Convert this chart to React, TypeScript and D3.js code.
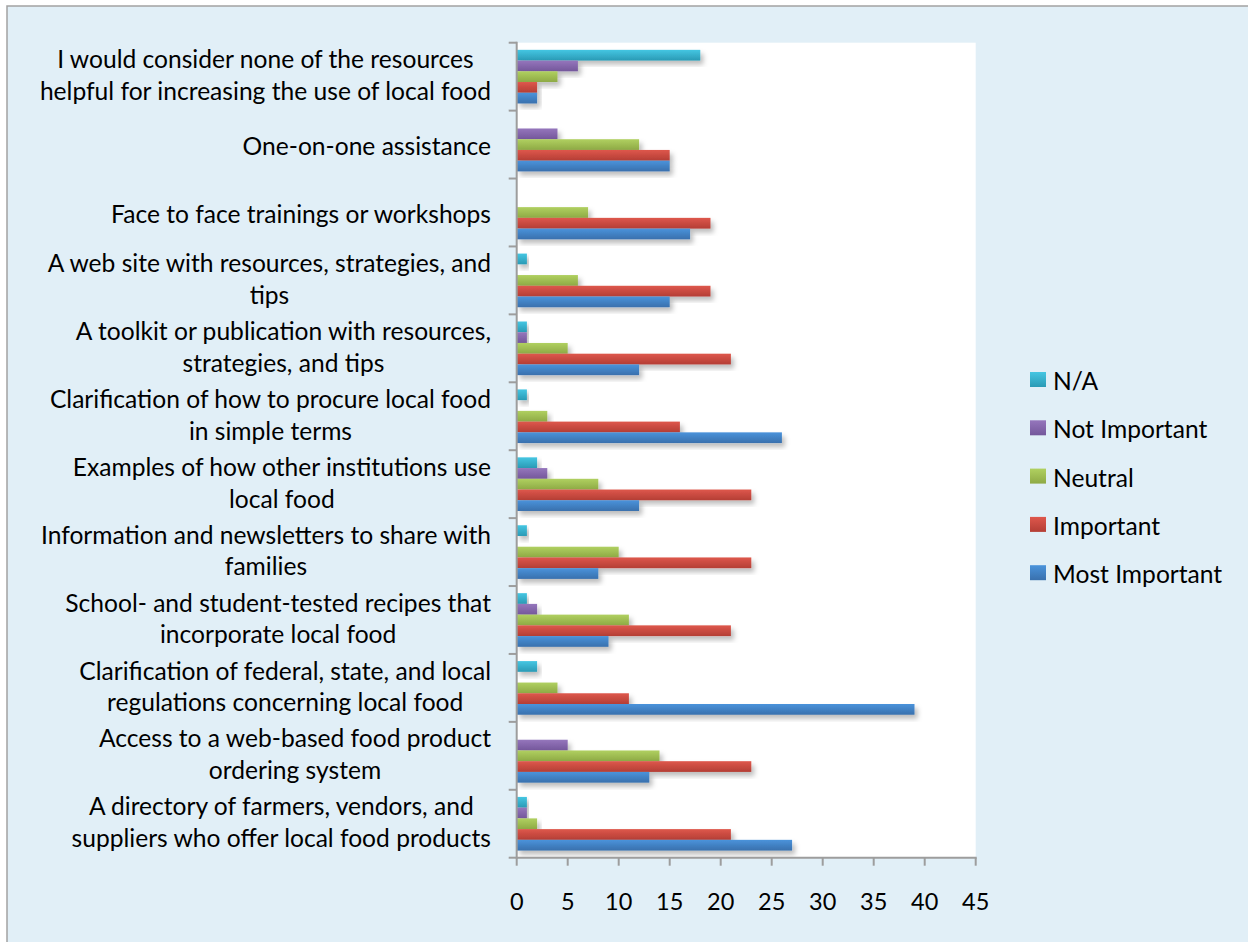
import React, { useEffect, useRef } from "react";
import * as d3 from "d3";

// Category labels, listed top to bottom; each entry holds its wrapped lines.
const categories: string[][] = [
  ["I would consider none of the resources", "helpful for increasing the use of local food"],
  ["One-on-one assistance"],
  ["Face to face trainings or workshops"],
  ["A web site with resources, strategies, and", "tips"],
  ["A toolkit or publication with resources,", "strategies, and tips"],
  ["Clarification of how to procure local food", "in simple terms"],
  ["Examples of how other institutions use", "local food"],
  ["Information and newsletters to share with", "families"],
  ["School- and student-tested recipes that", "incorporate local food"],
  ["Clarification of federal, state, and local", "regulations concerning local food"],
  ["Access to a web-based food product", "ordering system"],
  ["A directory of farmers, vendors, and", "suppliers who offer local food products"],
];

const seriesNames = ["N/A", "Not Important", "Neutral", "Important", "Most Important"];

const naValues = [18, 0, 0, 1, 1, 1, 2, 1, 1, 2, 0, 1];
const notImportantValues = [6, 4, 0, 0, 1, 0, 3, 0, 2, 0, 5, 1];
const neutralValues = [4, 12, 7, 6, 5, 3, 8, 10, 11, 4, 14, 2];
const importantValues = [2, 15, 19, 19, 21, 16, 23, 23, 21, 11, 23, 21];
const mostImportantValues = [2, 15, 17, 15, 12, 26, 12, 8, 9, 39, 13, 27];

const xTicks = [0, 5, 10, 15, 20, 25, 30, 35, 40, 45];

const seriesValues = [naValues, notImportantValues, neutralValues, importantValues, mostImportantValues];
const seriesColors: [string, string][] = [
  ["#45c6e2", "#2a9ab5"],
  ["#9576bc", "#74579b"],
  ["#b0d060", "#8eaa45"],
  ["#de574c", "#b43e35"],
  ["#4a93db", "#3970ad"],
];

const W = 1248;
const H = 942;
const FONT = "Lato, 'Open Sans', sans-serif";
const FS = 24.6;
const TICK_FS = 23.5;

export default function App() {
  const ref = useRef<SVGSVGElement | null>(null);

  useEffect(() => {
    document.body.style.margin = "0";
    const svg = d3.select(ref.current!);
    svg.selectAll("*").remove();

    const plot = { left: 516.7, right: 975.7, top: 42.7, bottom: 857.7 };

    const x = d3.scaleLinear().domain([0, 45]).range([plot.left, plot.right]);
    const y = d3
      .scaleBand<number>()
      .domain(d3.range(categories.length))
      .range([plot.top, plot.bottom])
      .paddingInner(0);
    const step = y.step();
    const groupGap = step * 0.105;
    const sub = d3
      .scaleBand<number>()
      .domain(d3.range(seriesNames.length))
      .range([groupGap, step - groupGap])
      .padding(0);

    const defs = svg.append("defs");
    seriesColors.forEach(([a, b], i) => {
      const g = defs
        .append("linearGradient")
        .attr("id", `grad${i}`)
        .attr("x1", 0)
        .attr("y1", 0)
        .attr("x2", 0)
        .attr("y2", 1);
      g.append("stop").attr("offset", "0%").attr("stop-color", a);
      g.append("stop").attr("offset", "100%").attr("stop-color", b);
    });
    const shadow = defs
      .append("filter")
      .attr("id", "barShadow")
      .attr("x", "-10%")
      .attr("y", "-40%")
      .attr("width", "130%")
      .attr("height", "200%");
    shadow
      .append("feDropShadow")
      .attr("dx", 3)
      .attr("dy", 4)
      .attr("stdDeviation", 2.8)
      .attr("flood-color", "#000")
      .attr("flood-opacity", 0.26);
    const lineShadow = defs
      .append("filter")
      .attr("id", "lineShadow")
      .attr("x", "-200%")
      .attr("y", "-5%")
      .attr("width", "500%")
      .attr("height", "110%");
    lineShadow
      .append("feDropShadow")
      .attr("dx", 2)
      .attr("dy", 2)
      .attr("stdDeviation", 1.2)
      .attr("flood-color", "#000")
      .attr("flood-opacity", 0.15);

    // chart area background and border
    svg
      .append("rect")
      .attr("x", 7)
      .attr("y", 6)
      .attr("width", W + 20)
      .attr("height", H + 20)
      .attr("fill", "#e1eff7")
      .attr("stroke", "#a2a2a2")
      .attr("stroke-width", 1.5);

    // plot area
    svg
      .append("rect")
      .attr("x", plot.left)
      .attr("y", plot.top)
      .attr("width", plot.right - plot.left)
      .attr("height", plot.bottom - plot.top)
      .attr("fill", "#ffffff");

    // vertical gridlines
    svg
      .append("g")
      .selectAll("line")
      .data(xTicks.slice(1))
      .join("line")
      .attr("x1", (d) => x(d))
      .attr("x2", (d) => x(d))
      .attr("y1", plot.top)
      .attr("y2", plot.bottom)
      .attr("stroke", "#a3a3a3")
      .attr("stroke-width", 2)
      .attr("filter", "url(#lineShadow)");

    // bars
    const groups = svg
      .append("g")
      .selectAll("g")
      .data(categories.map((_, i) => i))
      .join("g")
      .attr("transform", (i) => `translate(0,${y(i)})`);
    groups
      .selectAll("rect")
      .data((ci) => seriesValues.map((vals, si) => ({ si, v: vals[ci] })).filter((d) => d.v > 0))
      .join("rect")
      .attr("x", x(0))
      .attr("y", (d) => sub(d.si)!)
      .attr("width", (d) => x(d.v) - x(0))
      .attr("height", sub.bandwidth())
      .attr("fill", (d) => `url(#grad${d.si})`)
      .attr("filter", "url(#barShadow)");

    // axes
    const axisColor = "#9d9d9d";
    const axes = svg.append("g").attr("stroke", axisColor).attr("stroke-width", 2);
    axes
      .append("line")
      .attr("x1", plot.left)
      .attr("x2", plot.left)
      .attr("y1", plot.top - 1)
      .attr("y2", plot.bottom + 1);
    axes
      .append("line")
      .attr("x1", plot.left)
      .attr("x2", plot.right + 1)
      .attr("y1", plot.bottom)
      .attr("y2", plot.bottom);
    axes
      .selectAll("line.ytick")
      .data(d3.range(categories.length + 1))
      .join("line")
      .attr("class", "ytick")
      .attr("x1", plot.left - 8)
      .attr("x2", plot.left)
      .attr("y1", (i) => plot.top + i * step)
      .attr("y2", (i) => plot.top + i * step);
    axes
      .selectAll("line.xtick")
      .data(xTicks)
      .join("line")
      .attr("class", "xtick")
      .attr("x1", (d) => x(d))
      .attr("x2", (d) => x(d))
      .attr("y1", plot.bottom)
      .attr("y2", plot.bottom + 8);

    // x tick labels
    svg
      .append("g")
      .selectAll("text")
      .data(xTicks)
      .join("text")
      .attr("x", (d) => x(d))
      .attr("y", 910)
      .attr("text-anchor", "middle")
      .attr("font-family", FONT)
      .attr("font-size", TICK_FS)
      .attr("fill", "#000")
      .text((d) => String(d));

    // category labels: block right-aligned, lines centred within the block
    const labelRight = 491;
    const lineH = 31.7;
    const labels = svg.append("g").attr("font-family", FONT).attr("font-size", FS).attr("fill", "#000");
    categories.forEach((lines, ci) => {
      const cy = y(ci)! + step / 2;
      const offset = lines.length === 1 ? 10.5 : 7.5;
      const texts = lines.map((ln, li) =>
        labels
          .append("text")
          .attr("y", cy + (li - (lines.length - 1) / 2) * lineH + offset)
          .attr("text-anchor", "middle")
          .text(ln)
      );
      const maxW = d3.max(texts, (t) => (t.node() as SVGTextElement).getComputedTextLength()) ?? 0;
      texts.forEach((t) => t.attr("x", labelRight - maxW / 2));
    });

    // legend
    const legend = svg.append("g").attr("transform", "translate(1030,372)");
    seriesNames.forEach((name, i) => {
      const row = legend.append("g").attr("transform", `translate(0,${i * 48.3})`);
      row
        .append("rect")
        .attr("width", 16)
        .attr("height", 15)
        .attr("fill", `url(#grad${i})`);
      row
        .append("text")
        .attr("x", 23)
        .attr("y", 18)
        .attr("font-family", FONT)
        .attr("font-size", FS)
        .attr("fill", "#000")
        .text(name);
    });
  }, []);

  return <svg ref={ref} width={W} height={H} style={{ display: "block" }} />;
}
